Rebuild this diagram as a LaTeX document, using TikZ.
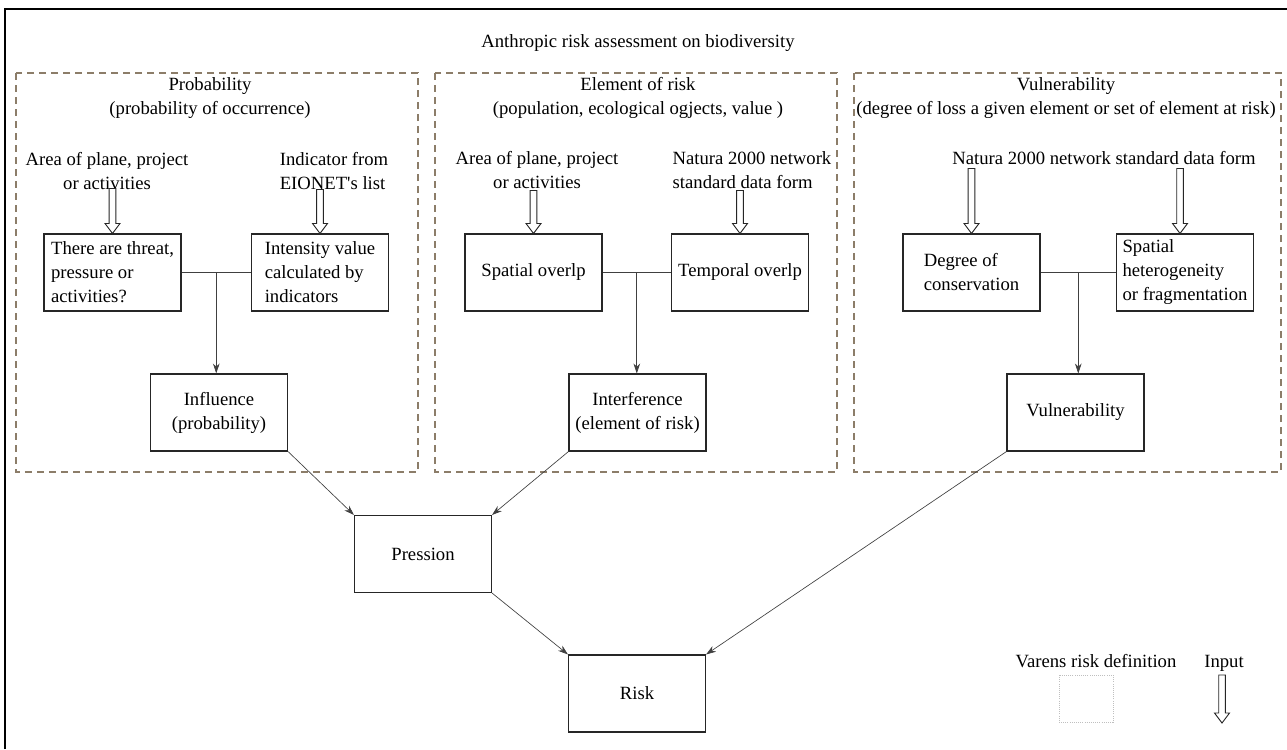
\documentclass[tikz,border=0pt]{standalone}
\usepackage{fontspec}
\setmainfont{Liberation Serif}[Ligatures=TeXOff]
\usetikzlibrary{arrows.meta,calc}
\definecolor{dashc}{RGB}{140,125,105}
\tikzset{
 box/.style={draw=black!85, line width=0.8pt, minimum width=102.75pt, minimum height=57.75pt, inner sep=0pt, font=\fontsize{14}{18}\selectfont},
 txt/.style={inner sep=0pt, font=\fontsize{14}{18}\selectfont},
 panel/.style={draw=dashc, line width=1.4pt, dash pattern=on 5pt off 4pt},
 conn/.style={draw=black!75, line width=0.5pt, -{Stealth[length=7.5pt,width=5pt]}},
 link/.style={draw=black!75, line width=0.5pt},
 inarrow/.style={draw=black!85, line width=0.7pt, fill=white, line join=miter},
}
\newcommand{\hollowarrow}[2]{%
 \draw[inarrow] #1 -- ++(-7.5,-10) -- ++(4.2,0) -- ++(0,{-(#2-10)}) -- ++(6.6,0) -- ++(0,{#2-10}) -- ++(4.2,0) -- cycle;}
\begin{document}
\begin{tikzpicture}[x=0.75pt,y=-0.75pt]
\useasboundingbox (0,0) rectangle (1287,749);
\draw[line width=0.9pt] (5,749) -- (5,9) -- (1287,9);
\node[txt] (title) at (638,43) {Anthropic risk assessment on biodiversity};
% panels
\draw[panel] (16,73) rectangle (418,472);
\draw[panel] (435,73) rectangle (837,472);
\draw[panel] (854,73) rectangle (1281,472);
% titles
\node[txt, align=center] (t1) at (210,98) {Probability\\(probability of occurrence)};
\node[txt, align=center] (t2) at (638,98) {Element of risk\\(population, ecological ogjects, value )};
\node[txt, align=center] (t3) at (1066,98) {Vulnerability\\(degree of loss a given element or set of element at risk)};
% inputs
\node[txt, align=center] (i1) at (107,171) {Area of plane, project\\or activities};
\node[txt, align=left] (i2) at (334,171) {Indicator from\\EIONET's list};
\node[txt, align=center] (i3) at (537,170) {Area of plane, project\\or activities};
\node[txt, align=left] (i4) at (752,170) {Natura 2000 network\\standard data form};
\node[txt] (i5) at (1104,158) {Natura 2000 network standard data form};
% boxes
\node[box, align=left] (b1) at (112.5,272.5) {There are threat,\\pressure or\\activities?};
\node[box, align=left] (b2) at (320,272.5) {Intensity value\\calculated by\\indicators};
\node[box, align=center] (infl) at (219,412.5) {Influence\\(probability)};
\node[box] (sp) at (533.5,272.5) {Spatial overlp};
\node[box] (tp) at (740,272.5) {Temporal overlp};
\node[box, align=center] (intf) at (637.5,412.5) {Interference\\(element of risk)};
\node[box, align=left] (dc) at (971.5,272.5) {Degree of\\conservation};
\node[box, align=left] (sh) at (1185,272.5) {Spatial\\heterogeneity\\or fragmentation};
\node[box] (vul) at (1075.5,412.5) {Vulnerability};
\node[box] (pr) at (423,554) {Pression};
\node[box] (risk) at (637,693.5) {Risk};
% junction connectors
\draw[link] (b1.east) -- (b2.west);
\coordinate (m1) at ($(b1.east)!0.5!(b2.west)$);
\draw[conn] (m1) -- (m1 |- infl.north);
\draw[link] (sp.east) -- (tp.west);
\coordinate (m2) at ($(sp.east)!0.5!(tp.west)$);
\draw[conn] (m2) -- (m2 |- intf.north);
\draw[link] (dc.east) -- (sh.west);
\coordinate (m3) at ($(dc.east)!0.5!(sh.west)$);
\draw[conn] (m3) -- (m3 |- vul.north);
% diagonal connectors
\draw[conn] (infl.south east) -- (pr.north west);
\draw[conn] (intf.south west) -- (pr.north east);
\draw[conn] (pr.south east) -- (risk.north west);
\draw[conn] (vul.south west) -- (risk.north east);
% input arrows
\hollowarrow{(b1.north)}{45}
\hollowarrow{(b2.north)}{44}
\hollowarrow{(sp.north)}{43}
\hollowarrow{(tp.north)}{43}
\hollowarrow{(dc.north)}{65}
\hollowarrow{($(sh.north)+(-5,0)$)}{65}
% legend
\node[txt, anchor=base] (leg1) at (1096,667) {Varens risk definition};
\draw[densely dotted, draw=black!25, line width=0.6pt] (1059,675) rectangle (1113,722);
\node[txt, anchor=base] (leg2) at (1224,667) {Input};
\hollowarrow{(1222,723)}{48}
\end{tikzpicture}
\end{document}
